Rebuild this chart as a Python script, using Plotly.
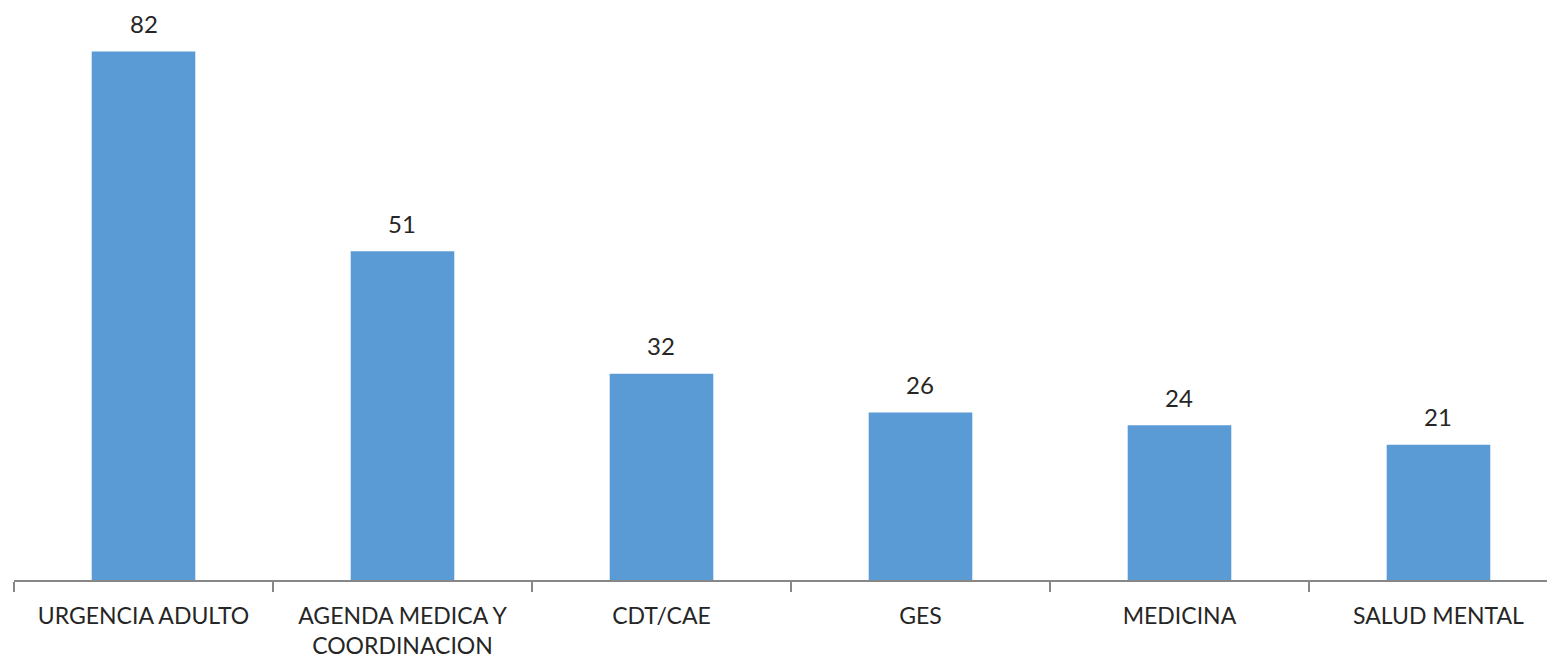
import plotly.graph_objects as go

categories = ["URGENCIA ADULTO", "AGENDA MEDICA Y<br>COORDINACION", "CDT/CAE", "GES", "MEDICINA", "SALUD MENTAL"]
values = [82, 51, 32, 26, 24, 21]

FONT = "Lato"
fig = go.Figure()
fig.add_trace(go.Bar(
    x=categories, y=values,
    marker=dict(color="#5B9BD5", line=dict(width=0)),
    width=0.4,
))
for c, v in zip(categories, values):
    fig.add_annotation(x=c, y=v, text=str(v), showarrow=False, yshift=28,
                       font=dict(family=FONT, size=24, color="#262626"))

fig.update_layout(
    width=1547, height=658,
    margin=dict(l=14, r=0, t=0, b=78),
    paper_bgcolor="white", plot_bgcolor="white",
    showlegend=False,
    xaxis=dict(
        type="category",
        range=[-0.5, 5.419], showline=True, linecolor="#878787", linewidth=1.5,
        ticks="outside", tickson="boundaries", ticklen=10, tickcolor="#878787", tickwidth=1.5,
        ticklabelstandoff=15,
        tickfont=dict(family=FONT, size=23, color="#262626"),
        showgrid=False, zeroline=False,
    ),
    yaxis=dict(range=[0, 90], visible=False, showgrid=False, zeroline=False),
)
fig.write_html("out.html")
